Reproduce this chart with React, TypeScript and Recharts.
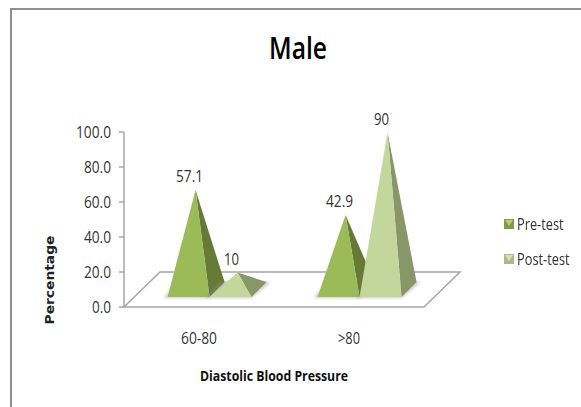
import React from "react";
import { Bar, BarChart, Legend, XAxis, YAxis, LabelList, usePlotArea } from "recharts";

const categories = ["60-80", ">80"];
const preTest = [57.1, 42.9];
const postTest = [10, 90];
const preLabels = ["57.1", "42.9"];
const postLabels = ["10", "90"];
const yTicks = [0, 20, 40, 60, 80, 100];

const chartData = categories.map((name, i) => ({
  name,
  pre: preTest[i],
  post: postTest[i],
  preLabel: preLabels[i],
  postLabel: postLabels[i],
}));

const FONT = "'Open Sans', sans-serif";
const DEPTH_X = 36;
const DEPTH_Y = 35;
const FLOOR_SHIFT = 11;

function Floor() {
  const plot = usePlotArea();
  if (!plot) return null;
  const left = plot.x - FLOOR_SHIFT;
  const right = plot.x + plot.width - FLOOR_SHIFT;
  const bottom = plot.y + plot.height;
  const pts = [
    [left, bottom],
    [right, bottom],
    [right + DEPTH_X, bottom - DEPTH_Y],
    [left + DEPTH_X, bottom - DEPTH_Y],
  ];
  return (
    <g>
      <polygon
        points={pts.map((p) => p.join(",")).join(" ")}
        fill="#ffffff"
        stroke="#a6a6a6"
        strokeWidth={1.5}
      />
      <line x1={left} x2={left} y1={plot.y} y2={bottom} stroke="#a6a6a6" strokeWidth={1.5} />
      {yTicks.map((t) => {
        const y = bottom - (t / 100) * plot.height;
        return <line key={t} x1={left - 5} x2={left} y1={y} y2={y} stroke="#a6a6a6" strokeWidth={1.5} />;
      })}
    </g>
  );
}

function Pyramid(props: any) {
  const { x, y, width, height, front, side } = props;
  const base = y + height - 10;
  const tipX = x + width / 2 + 7;
  const tipY = y - 17;
  const backX = x + width + 15;
  const backY = base - 15;
  return (
    <g>
      <polygon
        points={`${x - 4},${base + 1} ${x + width},${base + 1} ${backX + 4},${backY} ${x + 10},${backY}`}
        fill="#8c8c8c"
        opacity={0.45}
        style={{ filter: "blur(1.5px)" }}
      />
      <polygon points={`${x + width},${base} ${backX},${backY} ${tipX},${tipY}`} fill={side} />
      <polygon points={`${x},${base} ${x + width},${base} ${tipX},${tipY}`} fill={front} />
    </g>
  );
}

function PyramidLabel(props: any) {
  const { x, y, width, value } = props;
  return (
    <text
      x={x + width / 2 + 1}
      y={y - 25}
      textAnchor="middle"
      fontFamily={FONT}
      fontSize={16}
      fill="#333333"
      textLength={String(value).length > 2 ? 27 : 15}
      lengthAdjust="spacingAndGlyphs"
    >
      {value}
    </text>
  );
}

function LegendBox() {
  const items = [
    { label: "Pre-test", fill: "#7f9a48", tip: "#b5cf72" },
    { label: "Post-test", fill: "#aab98a", tip: "#d5e3b5" },
  ];
  return (
    <div>
      {items.map((it) => (
        <div key={it.label} style={{ height: 35, display: "flex", alignItems: "center" }}>
          <svg width={10} height={10} style={{ marginRight: 3 }}>
            <rect width={10} height={10} fill={it.fill} />
            <polygon points="1,1 9,1 5,7" fill={it.tip} />
          </svg>
          <span style={{ fontFamily: FONT, fontSize: 16, color: "#333333", display: "inline-block", transform: "scaleX(0.8)", transformOrigin: "left", whiteSpace: "nowrap" }}>
            {it.label}
          </span>
        </div>
      ))}
    </div>
  );
}

export default function App() {
  return (
    <div style={{ position: "absolute", left: 0, top: 0, width: 581, height: 407, background: "#fff", overflow: "hidden" }}>
      <div style={{ position: "absolute", left: 10, top: 8, width: 1.5, height: 399, background: "#8f8f8f" }} />
      <div style={{ position: "absolute", left: 10, top: 8, width: 571, height: 2, background: "#8f8f8f" }} />
      <BarChart
        width={581}
        height={407}
        data={chartData}
        margin={{ left: 75, right: 66, top: 132, bottom: 40 }}
        barCategoryGap="21.7%"
        barGap={0}
        style={{ position: "absolute", left: 0, top: 0 }}
      >
        <Floor />
        <XAxis
          dataKey="name"
          axisLine={false}
          tickLine={false}
          interval={0}
          height={60}
          tick={(p: any) => (
            <text x={p.x - 11} y={344} textAnchor="middle" fontFamily={FONT} fontSize={16} fill="#333333" textLength={p.payload.value.length > 3 ? 36 : 22} lengthAdjust="spacingAndGlyphs">
              {p.payload.value}
            </text>
          )}
        />
        <YAxis
          domain={[0, 100]}
          ticks={yTicks}
          width={60}
          axisLine={false}
          tickLine={false}
          tick={(p: any) => (
            <text x={111} y={p.y + 6} textAnchor="end" fontFamily={FONT} fontSize={16} fill="#333333" textLength={p.payload.value === 100 ? 35 : p.payload.value === 0 ? 19 : 27} lengthAdjust="spacingAndGlyphs">
              {p.payload.value.toFixed(1)}
            </text>
          )}
        />
        <Bar dataKey="pre" isAnimationActive={false} shape={(p: any) => <Pyramid {...p} front="#9bbb59" side="#667a35" />}>
          <LabelList dataKey="preLabel" content={PyramidLabel} />
        </Bar>
        <Bar dataKey="post" isAnimationActive={false} shape={(p: any) => <Pyramid {...p} front="#c3d69b" side="#879768" />}>
          <LabelList dataKey="postLabel" content={PyramidLabel} />
        </Bar>
        <Legend
          layout="vertical"
          align="right"
          verticalAlign="middle"
          content={LegendBox}
          wrapperStyle={{ position: "absolute", left: 504, top: 206, width: 80 }}
        />
        <text x={298} y={59} textAnchor="middle" fontFamily={FONT} fontSize={31} fontWeight={600} fill="#000000" textLength={58} lengthAdjust="spacingAndGlyphs">
          Male
        </text>
        <text x={274} y={381} textAnchor="middle" fontFamily={FONT} fontSize={14} fontWeight={700} fill="#111111" textLength={148} lengthAdjust="spacingAndGlyphs">
          Diastolic Blood Pressure
        </text>
        <text transform="translate(54,280) rotate(-90)" textAnchor="middle" fontFamily="'DejaVu Sans', sans-serif" fontSize={12.5} fontWeight={700} fill="#222222" textLength={89} lengthAdjust="spacingAndGlyphs">
          Percentage
        </text>
      </BarChart>
    </div>
  );
}
